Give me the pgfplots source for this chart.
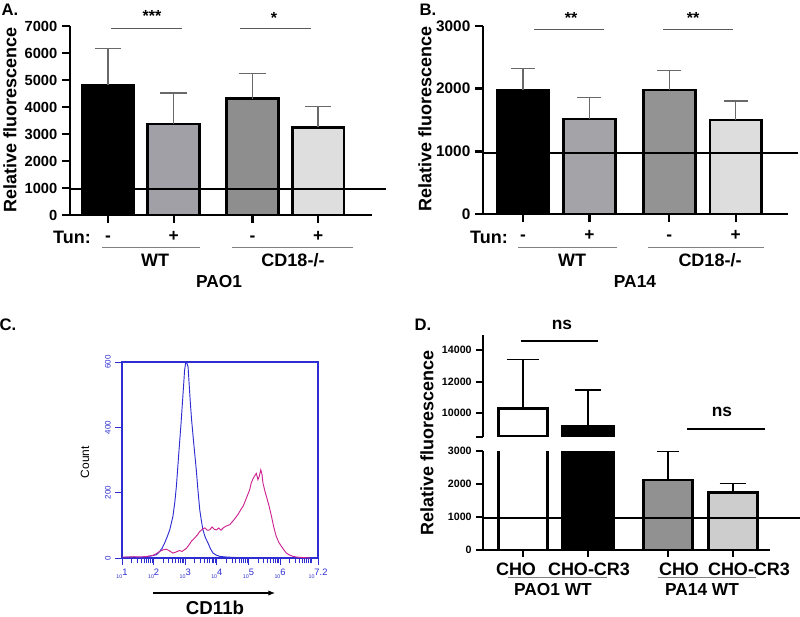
\documentclass[border=0pt]{standalone}
\usepackage{pgfplots}
\pgfplotsset{compat=1.18}
\usepackage{fontspec}
\setmainfont{Liberation Sans}
\usetikzlibrary{arrows.meta}
\definecolor{gA2}{RGB}{160,160,166}
\definecolor{gA3}{RGB}{142,142,142}
\definecolor{gA4}{RGB}{222,222,222}
\definecolor{gB2}{RGB}{163,163,168}
\definecolor{gB3}{RGB}{147,147,147}
\definecolor{gB4}{RGB}{221,221,221}
\definecolor{gD3}{RGB}{145,145,145}
\definecolor{gD4}{RGB}{205,205,205}
\definecolor{errg}{RGB}{105,105,105}
\definecolor{sigg}{RGB}{90,90,90}
\definecolor{fblue}{RGB}{45,45,210}
\definecolor{fmag}{RGB}{205,35,145}
\newcommand{\fs}[1]{\fontsize{#1}{#1}\selectfont}
\newcommand{\TL}[1]{{\fs{4}10}\raisebox{2pt}{\fs{7}#1}}
\pgfplotsset{
  barax/.style={
    scale only axis, anchor=south west,
    axis x line*=bottom, axis y line*=left,
    axis line style={line width=1.8pt},
    tick style={black, line width=1.8pt},
    major tick length=6pt, tick align=outside,
    xtick pos=left, ytick pos=left,
    /pgf/number format/assume math mode=true,
    /pgf/number format/1000 sep={},
    scaled y ticks=false,
    clip=false,
  },
  bars/.style 2 args={ybar, bar shift=0pt, bar width=#1, fill=#2, draw=black, line width=2pt},
  errs/.style 2 args={error bars/y dir=plus, error bars/y explicit,
    error bars/error bar style={#1, line width=1pt},
    error bars/error mark options={#1, line width=1pt, mark size=#2, rotate=90}},
}
\begin{document}
\begin{tikzpicture}
\useasboundingbox (0pt,0pt) rectangle (600pt,-462.75pt);

% ---------------- Panel A ----------------
\begin{axis}[barax, at={(52.5pt,-161.25pt)}, width=226.5pt, height=141.75pt,
  xmin=-0.58, xmax=4.02, ymin=0, ymax=7000, ytick={0,1000,...,7000},
  xtick={0,1,2.2,3.2}, xticklabels={-,+,-,+},
  xticklabel style={font=\bfseries\fs{13}, anchor=base, yshift=-14pt},
  yticklabel style={font=\bfseries\fs{11}},
]
\addplot[bars={0.79}{black}, errs={errg}{10pt}] coordinates {(0,4815) +- (0,1358)};
\addplot[bars={0.79}{gA2}, errs={errg}{10pt}] coordinates {(1,3370) +- (0,1149)};
\addplot[bars={0.79}{gA3}, errs={errg}{10pt}] coordinates {(2.2,4309) +- (0,938)};
\addplot[bars={0.79}{gA4}, errs={errg}{10pt}] coordinates {(3.2,3247) +- (0,765)};
\addplot[black, line width=1.8pt] coordinates {(-0.58,970) (4.23,970)};
\end{axis}

% ---------------- Panel B ----------------
\begin{axis}[barax, at={(362.25pt,-160.5pt)}, width=228.75pt, height=141pt,
  xmin=-0.6, xmax=3.985, ymin=0, ymax=3000, ytick={0,1000,2000,3000},
  xtick={0,1,2.2,3.2}, xticklabels={-,+,-,+},
  xticklabel style={font=\bfseries\fs{13}, anchor=base, yshift=-14pt},
  yticklabel style={font=\bfseries\fs{11.5}},
]
\addplot[bars={0.78}{black}, errs={errg}{9pt}] coordinates {(0,1979) +- (0,346)};
\addplot[bars={0.78}{gB2}, errs={errg}{9pt}] coordinates {(1,1516) +- (0,340)};
\addplot[bars={0.78}{gB3}, errs={errg}{9pt}] coordinates {(2.2,1979) +- (0,308)};
\addplot[bars={0.78}{gB4}, errs={errg}{9pt}] coordinates {(3.2,1500) +- (0,303)};
\addplot[black, line width=1.8pt] coordinates {(-0.6,975) (4.14,975)};
\end{axis}

% ---------------- Panel C ----------------
\begin{axis}[scale only axis, anchor=south west, at={(91.5pt,-418.5pt)}, width=147pt, height=147pt,
  xmin=1, xmax=7.2, ymin=0, ymax=600,
  axis line style={fblue, line width=0.8pt},
  tick style={fblue, line width=0.6pt},
  tick align=outside, major tick length=5pt, minor tick length=4pt,
  xtick pos=left, ytick pos=left,
  xtick={1,2,3,4,5,6,7.2},
  xticklabels={\TL{1},\TL{2},\TL{3},\TL{4},\TL{5},\TL{6},\TL{7.2}},
  minor xtick={1.301,1.477,1.602,1.699,1.778,1.845,1.903,1.954,
               2.301,2.477,2.602,2.699,2.778,2.845,2.903,2.954,
               3.301,3.477,3.602,3.699,3.778,3.845,3.903,3.954,
               4.301,4.477,4.602,4.699,4.778,4.845,4.903,4.954,
               5.301,5.477,5.602,5.699,5.778,5.845,5.903,5.954,
               6.301,6.477,6.602,6.699,6.778,6.845,6.903,6.954,7},
  ytick={0,200,400,600},
  /pgf/number format/assume math mode=true,
  yticklabel style={rotate=90, anchor=south, font=\fs{6}, color=fblue},
  xticklabel style={color=fblue},
]
\addplot[fblue, line width=0.7pt] coordinates {
(1.0,2)(1.3,3)(1.5,2)(1.77,4)(1.9,6)(2.0,8)(2.09,10)(2.19,20)(2.27,30)(2.35,46)
(2.43,65)(2.51,86)(2.61,127)(2.67,170)(2.72,219)(2.77,285)(2.82,351)(2.87,415)
(2.91,473)(2.95,530)(2.98,575)(3.01,595)(3.04,600)(3.09,585)(3.16,478)(3.2,425)
(3.25,371)(3.3,320)(3.35,270)(3.4,210)(3.46,147)(3.51,115)(3.56,86)(3.64,62)
(3.72,46)(3.8,28)(3.88,15)(3.98,9)(4.09,5)(4.3,3)(4.51,2)(4.72,1)(5.0,0)};
\addplot[fmag, line width=0.7pt] coordinates {
(1.0,3)(1.2,3)(1.4,4)(1.6,3)(1.8,5)(1.98,8)(2.1,14)(2.19,20)(2.3,25)(2.4,27)
(2.5,22)(2.61,15)(2.7,18)(2.82,23)(2.9,20)(3.04,30)(3.12,40)(3.2,52)(3.25,56)
(3.3,62)(3.38,70)(3.46,81)(3.54,88)(3.62,92)(3.7,85)(3.77,86)(3.85,95)(3.92,88)
(3.99,86)(4.06,92)(4.13,85)(4.2,92)(4.28,97)(4.35,100)(4.41,102)(4.48,110)
(4.55,118)(4.62,127)(4.7,138)(4.77,150)(4.83,158)(4.9,175)(4.97,192)(5.04,209)
(5.09,230)(5.15,244)(5.2,252)(5.25,259)(5.3,240)(5.34,249)(5.39,270)(5.43,255)
(5.46,229)(5.52,205)(5.57,188)(5.65,160)(5.73,127)(5.8,95)(5.88,66)(5.96,48)
(6.04,36)(6.12,25)(6.2,15)(6.3,9)(6.41,5)(6.52,3)(6.62,2)(6.8,1)(6.94,0)};
\end{axis}

% ---------------- Panel D (lower segment) ----------------
\begin{axis}[barax, at={(362.25pt,-412.5pt)}, width=215.25pt, height=74.25pt,
  axis line style={line width=1.5pt}, tick style={black, line width=1.5pt}, major tick length=5pt,
  xmin=-0.615, xmax=3.8, ymin=0, ymax=3000, ytick={0,1000,2000,3000},
  xtick={0,1,2.23,3.23}, xticklabels={,,,},
  yticklabel style={font=\bfseries\fs{8}},
  clip=true,
]
\addplot[bars={0.76}{white}] coordinates {(0,10300)};
\addplot[bars={0.78}{black}] coordinates {(1,9124)};
\addplot[bars={0.76}{gD3}, errs={black}{8pt}] coordinates {(2.23,2121) +- (0,858)};
\addplot[bars={0.76}{gD4}, errs={black}{10pt}] coordinates {(3.23,1737) +- (0,283)};
\end{axis}

% ---------------- Panel D (upper segment) ----------------
\begin{axis}[barax, at={(362.25pt,-327.375pt)}, width=215.25pt, height=76.5pt,
  hide x axis,
  axis line style={line width=1.5pt}, tick style={black, line width=1.5pt}, major tick length=5pt,
  xmin=-0.615, xmax=3.8, ymin=8500, ymax=15000,
  ytick={8500,10000,12000,14000}, yticklabels={,10000,12000,14000},
  yticklabel style={font=\bfseries\fs{8}},
  clip=true,
]
\addplot[bars={0.76}{white}, errs={black}{12pt}] coordinates {(0,10300) +- (0,3117)};
\addplot[bars={0.78}{black}, errs={black}{10pt}] coordinates {(1,9124) +- (0,2338)};
\end{axis}

% ---------------- Panel D (reference line) ----------------
\begin{axis}[scale only axis, anchor=south west, at={(362.25pt,-412.5pt)}, width=215.25pt, height=74.25pt,
  xmin=-0.615, xmax=3.8, ymin=0, ymax=3000, hide axis, clip=false]
\addplot[black, line width=1.5pt] coordinates {(-0.615,980) (4.26,980)};
\end{axis}

% ---------------- annotations (pixel coordinates) ----------------
\begin{scope}[x=0.75pt, y=-0.75pt, font=\bfseries]
% A
\node[font=\bfseries\fs{12.5}] at (10,10) {A.};
\node[font=\bfseries\fs{13.5}, rotate=90] at (10,120) {Relative fluorescence};
\draw[sigg, line width=0.75pt] (111,29) -- (182,29);
\draw[sigg, line width=0.75pt] (240,29) -- (311,29);
\node[font=\bfseries\fs{12}] at (152,16) {***};
\node[font=\bfseries\fs{12}] at (274,18) {*};
\node[font=\bfseries\fs{13.5}] at (72,237) {Tun:};
\draw[gray, line width=0.6pt] (102,247) -- (200,247);
\draw[gray, line width=0.6pt] (232,247) -- (353,247);
\node[font=\bfseries\fs{13.5}] at (155,260) {WT};
\node[font=\bfseries\fs{13.5}] at (293,260) {CD18-/-};
\node[font=\bfseries\fs{13}] at (219,282) {PAO1};
% B
\node[font=\bfseries\fs{12.5}] at (428,10) {B.};
\node[font=\bfseries\fs{13.5}, rotate=90] at (425,119) {Relative fluorescence};
\draw[sigg, line width=0.75pt] (534,30) -- (604,30);
\draw[sigg, line width=0.75pt] (663,30) -- (733,30);
\node[font=\bfseries\fs{12}] at (571,18) {**};
\node[font=\bfseries\fs{12}] at (693,18) {**};
\node[font=\bfseries\fs{13.5}] at (489,237) {Tun:};
\draw[gray, line width=0.6pt] (518,247) -- (617,247);
\draw[gray, line width=0.6pt] (648,247) -- (764,247);
\node[font=\bfseries\fs{13.5}] at (572,260) {WT};
\node[font=\bfseries\fs{13.5}] at (710,260) {CD18-/-};
\node[font=\bfseries\fs{13}] at (635,282) {PA14};
% C
\node[font=\bfseries\fs{12.5}] at (8,325) {C.};
\node[font=\fs{9}, rotate=90] at (85,462) {Count};
\draw[black, line width=0.8pt, -{Latex[length=5pt,width=4pt]}] (153,593) -- (275,593);
\node[font=\bfseries\fs{14}] at (215,608) {CD11b};
% D
\node[font=\bfseries\fs{12.5}] at (423,325) {D.};
\node[font=\bfseries\fs{13.5}, rotate=90] at (427,443) {Relative fluorescence};
\node[font=\bfseries\fs{13}] at (562,325) {ns};
\draw[black, line width=0.8pt] (521,341) -- (598,341);
\node[font=\bfseries\fs{13}] at (722,412) {ns};
\draw[black, line width=0.8pt] (687,429) -- (765,429);
\node[font=\bfseries\fs{13.5}] at (516,569) {CHO};
\node[font=\bfseries\fs{13.5}] at (589,569) {CHO-CR3};
\node[font=\bfseries\fs{13.5}] at (679,569) {CHO};
\node[font=\bfseries\fs{13.5}] at (749,569) {CHO-CR3};
\draw[gray, line width=0.6pt] (508,577) -- (607,577);
\draw[gray, line width=0.6pt] (658,577) -- (756,577);
\node[font=\bfseries\fs{13}] at (553,590) {PAO1 WT};
\node[font=\bfseries\fs{13}] at (702,590) {PA14 WT};
\end{scope}
\end{tikzpicture}
\end{document}
